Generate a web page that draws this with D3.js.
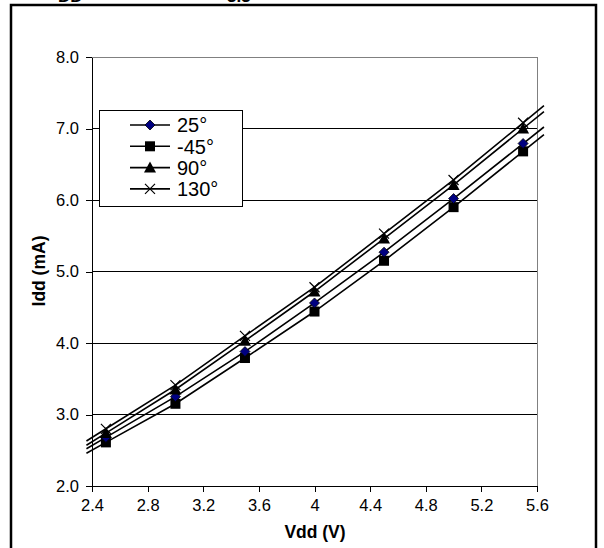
<!DOCTYPE html>
<html>
<head>
<meta charset="utf-8">
<script src="https://cdn.jsdelivr.net/npm/d3@7"></script>
<style>
  html, body { margin: 0; padding: 0; background: #fff; }
  svg { display: block; font-family: "Liberation Sans", Arial, sans-serif; }
</style>
</head>
<body>
<svg id="chart" width="604" height="548"></svg>
<script>
// ---- data ----
const vdd = [2.5, 3.0, 3.5, 4.0, 4.5, 5.0, 5.5];
const seriesNames = ["25°", "-45°", "90°", "130°"];
const idd25 = [2.68, 3.25, 3.88, 4.56, 5.27, 6.02, 6.79];
const iddM45 = [2.61, 3.15, 3.79, 4.44, 5.15, 5.90, 6.68];
const idd90 = [2.74, 3.35, 4.03, 4.72, 5.46, 6.21, 7.00];
const idd130 = [2.80, 3.41, 4.10, 4.78, 5.53, 6.28, 7.08];
const markerTypes = ["diamond", "square", "triangle", "cross"];
const xTicks = [2.4, 2.8, 3.2, 3.6, 4.0, 4.4, 4.8, 5.2, 5.6];
const xTickLabels = ["2.4", "2.8", "3.2", "3.6", "4", "4.4", "4.8", "5.2", "5.6"];
const yTicks = [2, 3, 4, 5, 6, 7, 8];
const trendRange = [2.36, 5.65];
const xTitle = "Vdd (V)";
const yTitle = "Idd (mA)";

const seriesValues = [idd25, iddM45, idd90, idd130];
const series = seriesNames.map((name, i) => ({
  name, marker: markerTypes[i],
  points: vdd.map((v, j) => ({ x: v, y: seriesValues[i][j] }))
}));

// ---- layout ----
const svg = d3.select("#chart");
const plot = { left: 92, right: 537, top: 57, bottom: 486 };
const x = d3.scaleLinear().domain([2.4, 5.6]).range([plot.left, plot.right]);
const y = d3.scaleLinear().domain([2, 8]).range([plot.bottom, plot.top]);

// outer frame
svg.append("rect").attr("x", 11).attr("y", 5).attr("width", 585).attr("height", 560)
  .attr("fill", "none").attr("stroke", "#000").attr("stroke-width", 2.5);

// clipped title remnants (the reference shows only their lower edge)
const titleG = svg.append("g").attr("font-weight", "bold").attr("font-size", 17);
titleG.append("text").attr("x", 58).attr("y", 2).text("DD");
titleG.append("text").attr("x", 227).attr("y", 2).text("3.3");

// gridlines
svg.append("g").selectAll("line").data(yTicks.filter(d => d > 2)).join("line")
  .attr("x1", plot.left).attr("x2", plot.right)
  .attr("y1", d => y(d)).attr("y2", d => y(d))
  .attr("stroke", d => d === 8 ? "#808080" : "#000").attr("stroke-width", 1)
  .attr("shape-rendering", "crispEdges");
// right border gray
svg.append("line").attr("x1", plot.right).attr("x2", plot.right)
  .attr("y1", plot.top).attr("y2", plot.bottom)
  .attr("stroke", "#808080").attr("shape-rendering", "crispEdges");

// axes
const xAxis = d3.axisBottom(x).tickValues(xTicks).tickSize(6).tickSizeOuter(0)
  .tickFormat((d, i) => xTickLabels[i]);
const gx = svg.append("g").attr("transform", `translate(0,${plot.bottom})`).call(xAxis);
const yAxis = d3.axisLeft(y).tickValues(yTicks).tickSize(6).tickSizeOuter(0)
  .tickFormat(d3.format(".1f"));
const gy = svg.append("g").attr("transform", `translate(${plot.left},0)`).call(yAxis);
[gx, gy].forEach(g => {
  g.select(".domain").attr("stroke", "#000").attr("shape-rendering", "crispEdges");
  g.selectAll(".tick line").attr("stroke", "#000").attr("shape-rendering", "crispEdges");
  g.selectAll(".tick text").attr("font-family", "Liberation Sans, Arial, sans-serif")
    .attr("font-size", 16.5).attr("fill", "#000");
});
gx.selectAll(".tick text").attr("dy", "0.71em").attr("y", 13);
gy.selectAll(".tick text").attr("x", -13);

// axis titles
svg.append("text").attr("x", 315).attr("y", 538).attr("text-anchor", "middle")
  .attr("font-weight", "bold").attr("font-size", 17.5).text(xTitle);
svg.append("text").attr("transform", "translate(45,271) rotate(-90)")
  .attr("text-anchor", "middle").attr("font-weight", "bold").attr("font-size", 17.5).text(yTitle);

// trend lines (through data, extended by first/last segment slope)
function extend(pts) {
  const a = pts[0], b = pts[1];
  const c = pts[pts.length - 2], d = pts[pts.length - 1];
  const s0 = (b.y - a.y) / (b.x - a.x), s1 = (d.y - c.y) / (d.x - c.x);
  return [{ x: trendRange[0], y: a.y + s0 * (trendRange[0] - a.x) }, ...pts,
          { x: trendRange[1], y: d.y + s1 * (trendRange[1] - d.x) }];
}
const line = d3.line().x(d => x(d.x)).y(d => y(d.y));
svg.append("g").selectAll("path").data(series).join("path")
  .attr("d", s => line(extend(s.points)))
  .attr("fill", "none").attr("stroke", "#000").attr("stroke-width", 1.6);

// markers
function drawMarker(g, type, cx, cy) {
  if (type === "diamond") {
    g.append("path").attr("d", `M${cx},${cy - 5}L${cx + 5},${cy}L${cx},${cy + 5}L${cx - 5},${cy}Z`)
      .attr("fill", "#000080").attr("stroke", "#000").attr("stroke-width", 0.8);
  } else if (type === "square") {
    g.append("rect").attr("x", cx - 5).attr("y", cy - 5).attr("width", 10).attr("height", 10)
      .attr("fill", "#000");
  } else if (type === "triangle") {
    g.append("path").attr("d", `M${cx},${cy - 6}L${cx + 6},${cy + 5}L${cx - 6},${cy + 5}Z`)
      .attr("fill", "#000");
  } else {
    g.append("path").attr("d", `M${cx - 5},${cy - 5}L${cx + 5},${cy + 5}M${cx + 5},${cy - 5}L${cx - 5},${cy + 5}`)
      .attr("stroke", "#000").attr("stroke-width", 1.2).attr("fill", "none");
  }
}
const markerOrder = [1, 0, 2, 3];
markerOrder.forEach(i => {
  const s = series[i];
  const g = svg.append("g");
  s.points.forEach(p => drawMarker(g, s.marker, x(p.x), y(p.y)));
});

// legend
const leg = svg.append("g");
leg.append("rect").attr("x", 99.5).attr("y", 110.5).attr("width", 143).attr("height", 96)
  .attr("fill", "#fff").attr("stroke", "#000").attr("stroke-width", 1);
series.forEach((s, i) => {
  const ly = 125 + i * 21.3;
  leg.append("line").attr("x1", 130).attr("x2", 170).attr("y1", ly).attr("y2", ly)
    .attr("stroke", "#000").attr("stroke-width", 1.6);
  drawMarker(leg, s.marker, 150, ly);
  leg.append("text").attr("x", 177).attr("y", ly).attr("dy", "0.36em")
    .attr("font-size", 20).text(s.name);
});
</script>
</body>
</html>
